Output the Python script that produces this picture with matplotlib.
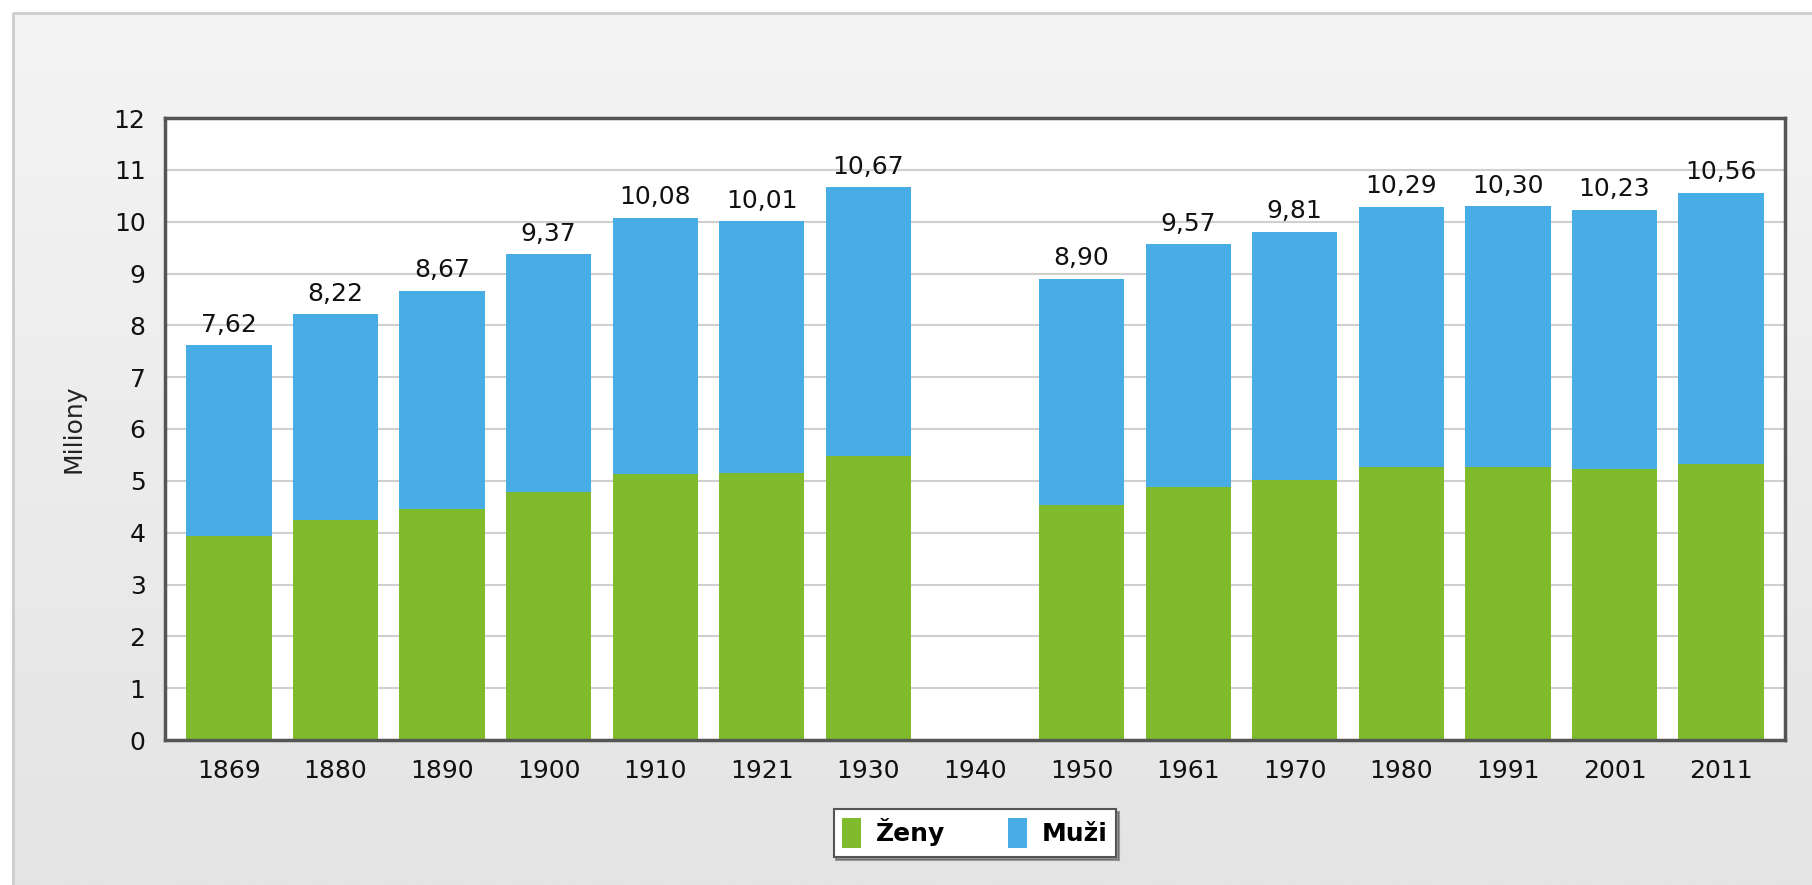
import numpy as np
import matplotlib
matplotlib.use("Agg")
import matplotlib.pyplot as plt
from matplotlib.patches import Rectangle

plt.rcParams["font.family"] = ["DejaVu Sans"]

# data (millions); 1940 has no census
years = ["1869", "1880", "1890", "1900", "1910", "1921", "1930", "1940",
         "1950", "1961", "1970", "1980", "1991", "2001", "2011"]
totals = [7.62, 8.22, 8.67, 9.37, 10.08, 10.01, 10.67, None,
          8.90, 9.57, 9.81, 10.29, 10.30, 10.23, 10.56]
zeny = [3.93, 4.24, 4.46, 4.78, 5.13, 5.16, 5.47, None,
        4.53, 4.89, 5.02, 5.27, 5.26, 5.22, 5.33]
y_ticks = list(range(0, 13))

GREEN = "#7fbb2d"
BLUE = "#49ade5"

W, H = 1812, 885
fig = plt.figure(figsize=(W / 100, H / 100), dpi=100, facecolor="white")

# background panel with gentle gradient and a thin border
bg = fig.add_axes([0, 0, 1, 1], zorder=-10)
bg.set_xlim(0, W)
bg.set_ylim(H, 0)
bg.axis("off")
grad = np.linspace(244, 228, 256).reshape(-1, 1) / 255.0
bg.imshow(np.dstack([grad, grad, grad]), extent=(13, W, H, 13),
          aspect="auto", interpolation="bilinear")
bg.plot([13, 13, W], [H, 13, 13], color="#cdcdcd", lw=2)

ax = fig.add_axes([165 / W, 1 - 740 / H, (1785 - 165) / W, (740 - 118) / H])
ax.set_facecolor("white")

x = np.arange(len(years))
idx = [i for i, t in enumerate(totals) if t is not None]
z = np.array([zeny[i] for i in idx])
t = np.array([totals[i] for i in idx])
m = t - z

ax.bar(x[idx], z, width=0.8, color=GREEN, zorder=3, label="Ženy")
ax.bar(x[idx], m, width=0.8, bottom=z, color=BLUE, zorder=3, label="Muži")

for xi, ti in zip(x[idx], t):
    ax.annotate(f"{ti:.2f}".replace(".", ","), (xi, ti), xytext=(0, 6),
                textcoords="offset points", ha="center", va="bottom",
                fontsize=18, color="#111111")

ax.set_xlim(-0.6, len(years) - 0.4)
ax.set_ylim(0, 12)
ax.set_yticks(y_ticks)
ax.set_xticks(x)
ax.set_xticklabels(years)
ax.tick_params(axis="both", length=0, labelsize=18, colors="#111111")
ax.tick_params(axis="y", pad=14)
ax.tick_params(axis="x", pad=14)
ax.yaxis.grid(True, color="#cfcfcf", lw=1.5, zorder=0)
ax.set_axisbelow(True)
for sp in ax.spines.values():
    sp.set_color("#555555")
    sp.set_linewidth(2.5)
    sp.set_zorder(5)

fig.text(73 / W, 1 - 429 / H, "Miliony", rotation=90, ha="center",
         va="center", fontsize=18, color="#222222")

leg = fig.legend(loc="center", bbox_to_anchor=(975 / W, 1 - 833 / H),
                 ncol=2, frameon=True, fancybox=False, shadow=True,
                 handlelength=0.75, handleheight=1.5, handletextpad=0.6,
                 columnspacing=2.5, borderpad=0.35,
                 prop={"weight": "bold", "size": 18})
leg.get_frame().set_edgecolor("#555555")
leg.get_frame().set_linewidth(1.5)

fig.savefig("out.png", dpi=100, facecolor=fig.get_facecolor())
